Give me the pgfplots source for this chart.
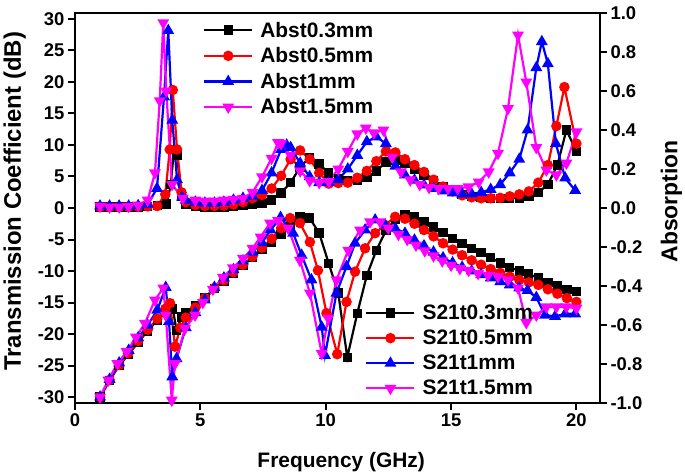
\documentclass[border=0pt]{standalone}
\usepackage{pgfplots}
\pgfplotsset{compat=1.18}
\usepackage{fontspec}
\setmainfont{Liberation Sans}
\definecolor{mag}{rgb}{1,0,1}
\pgfplotsset{
 myaxis/.style={width=525bp, height=390bp, scale only axis, xmin=0, xmax=20.94,
  tick align=outside, major tick length=7bp,
  axis line style={line width=2bp},
  every tick/.style={line width=2bp, black},
  tick label style={font=\fontsize{18.5}{20}\selectfont\bfseries},
  /pgf/number format/assume math mode=true,
  legend cell align=left,
  legend image code/.code={\draw[mark repeat=2,mark phase=2] plot coordinates {(0bp,0bp) (24bp,0bp) (48bp,0bp)};\path (53bp,0bp);},
 },
 sb/.style={line width=2.2bp, black, mark=square*, mark size=3.6bp, mark options={solid}},
 sr/.style={line width=2.2bp, red, mark=*, mark size=4.1bp, mark options={solid}},
 sl/.style={line width=2.2bp, blue, mark=triangle*, mark size=4.7bp, mark options={solid}},
 sm/.style={line width=2.2bp, mag, mark=triangle*, mark size=4.7bp, mark options={solid, rotate=180}},
}
\begin{document}
\begin{tikzpicture}
\path[use as bounding box] (-75bp,-73bp) rectangle (610bp,403bp);
\begin{axis}[myaxis, ymin=-30.95, ymax=30.95, ytick={-30,-25,...,30}, xtick={0,5,10,15,20},
 xtick pos=bottom, ytick pos=left,
 xlabel={Frequency (GHz)}, ylabel={Transmission Coefficient (dB)},
 ylabel style={at={(axis description cs:-0.115,0.517)}, anchor=center, font=\fontsize{24}{26}\selectfont\bfseries},
 xlabel style={at={(axis description cs:0.507,-0.151)}, anchor=center, font=\fontsize{21}{24}\selectfont\bfseries},
 legend style={draw=none, fill=none, at={(axis description cs:0.547,0.262)}, anchor=north west,
  font=\fontsize{21}{23}\selectfont\bfseries, row sep=5bp}]
\addplot[sb] table {
1.00 -30.0
1.38 -27.4
1.76 -25.0
2.14 -23.2
2.52 -21.3
2.90 -19.5
3.28 -17.8
3.66 -16.5
3.90 -16.0
4.05 -19.4
4.25 -17.3
4.42 -16.6
4.80 -15.5
5.18 -14.2
5.56 -12.8
5.94 -11.6
6.32 -10.3
6.70 -9.1
7.08 -7.9
7.46 -6.6
7.84 -5.4
8.22 -4.2
8.60 -2.6
8.98 -1.4
9.36 -1.6
9.74 -4.0
10.12 -8.8
10.50 -13.5
10.86 -23.7
11.26 -16.7
11.64 -10.7
12.02 -6.7
12.40 -3.6
12.78 -1.8
13.16 -1.1
13.54 -1.4
13.92 -2.2
14.30 -3.0
14.68 -3.9
15.06 -4.8
15.44 -5.6
15.82 -6.4
16.20 -7.1
16.58 -7.9
16.96 -8.7
17.34 -9.4
17.72 -10.0
18.10 -10.5
18.48 -11.1
18.86 -11.8
19.24 -12.4
19.62 -12.9
20.00 -13.3
};
\addlegendentry{S21t0.3mm}
\addplot[sr] table {
1.00 -30.0
1.38 -27.3
1.76 -24.9
2.14 -23.0
2.52 -21.1
2.90 -19.3
3.28 -17.6
3.60 -16.0
3.79 -15.1
3.99 -22.0
4.20 -19.0
4.42 -17.4
4.80 -15.8
5.18 -14.3
5.56 -12.7
5.94 -11.5
6.32 -10.2
6.70 -9.0
7.08 -7.7
7.46 -6.3
7.84 -4.9
8.22 -3.2
8.58 -1.6
8.97 -2.4
9.37 -5.4
9.69 -9.9
10.03 -16.7
10.46 -23.2
10.83 -14.9
11.17 -10.1
11.57 -6.4
11.97 -4.0
12.37 -2.7
12.77 -1.4
13.16 -1.7
13.54 -2.5
13.92 -3.5
14.30 -4.5
14.68 -5.6
15.06 -6.6
15.44 -7.5
15.82 -8.3
16.20 -9.0
16.58 -9.7
16.96 -10.3
17.34 -10.9
17.72 -11.4
18.10 -11.8
18.48 -12.2
18.86 -12.9
19.24 -13.6
19.62 -14.3
20.00 -14.9
};
\addlegendentry{S21t0.5mm}
\addplot[sl] table {
1.00 -30.0
1.38 -27.2
1.76 -24.6
2.14 -22.6
2.52 -20.6
2.90 -18.6
3.28 -16.2
3.62 -12.6
3.75 -18.0
3.88 -26.8
4.05 -23.9
4.42 -19.0
4.80 -16.6
5.18 -14.6
5.56 -12.6
5.94 -11.1
6.32 -9.8
6.70 -8.4
7.08 -7.0
7.46 -5.5
7.80 -3.5
8.20 -1.5
8.70 -4.0
9.04 -7.5
9.43 -11.4
9.84 -18.9
9.97 -23.4
10.43 -13.5
10.83 -9.3
11.17 -5.6
11.57 -3.5
11.97 -1.9
12.37 -2.7
12.77 -3.2
13.16 -4.0
13.54 -5.1
13.92 -6.0
14.30 -7.0
14.68 -7.9
15.06 -8.7
15.44 -9.4
15.82 -10.0
16.20 -10.6
16.58 -11.1
16.96 -11.7
17.34 -12.2
17.72 -12.7
18.05 -13.1
18.40 -14.2
18.75 -17.0
19.15 -17.2
19.55 -16.8
19.95 -16.8
};
\addlegendentry{S21t1mm}
\addplot[sm] table {
1.00 -30.0
1.33 -27.3
1.69 -24.7
2.06 -22.8
2.43 -20.5
2.79 -18.3
3.19 -14.6
3.52 -12.7
3.62 -17.0
3.86 -30.5
3.99 -24.7
4.39 -19.1
4.79 -17.0
5.10 -15.0
5.50 -12.9
5.90 -11.0
6.30 -9.5
6.70 -8.0
7.08 -6.4
7.40 -4.6
7.78 -2.4
8.10 -2.0
8.50 -3.2
8.97 -8.3
9.37 -13.5
9.84 -23.1
10.10 -17.5
10.43 -11.4
10.90 -6.7
11.37 -3.5
11.77 -2.2
12.17 -2.2
12.50 -3.2
12.90 -4.2
13.25 -5.0
13.60 -5.9
13.95 -6.8
14.30 -7.6
14.65 -8.4
15.00 -9.1
15.35 -9.6
15.70 -9.9
16.08 -10.4
16.47 -10.7
16.87 -10.9
17.27 -11.4
17.67 -12.7
18.00 -18.2
18.40 -17.0
18.80 -15.7
19.20 -15.7
19.60 -15.7
20.00 -15.9
};
\addlegendentry{S21t1.5mm}
\end{axis}
\begin{axis}[myaxis, ymin=-1, ymax=1, axis x line=none, axis y line*=right,
 ytick={-1,-0.8,-0.6,-0.4,-0.2,0,0.2,0.4,0.6,0.8,1},
 yticklabel style={/pgf/number format/.cd, fixed, fixed zerofill, precision=1},
 ylabel={Absorption},
 ylabel style={at={(axis description cs:1.136,0.517)}, anchor=center, font=\fontsize{23}{26}\selectfont\bfseries},
 legend style={draw=none, fill=none, at={(axis description cs:0.238,0.988)}, anchor=north west,
  font=\fontsize{21}{23}\selectfont\bfseries, row sep=5bp}]
\addplot[sb] table {
1.00 0.005
1.38 0.005
1.76 0.005
2.14 0.005
2.52 0.006
2.90 0.008
3.28 0.012
3.66 0.02
3.82 0.12
3.95 0.30
4.07 0.27
4.25 0.06
4.42 0.02
4.80 0.01
5.18 0.006
5.56 0.005
5.94 0.006
6.32 0.008
6.70 0.012
7.08 0.018
7.46 0.025
7.84 0.04
8.22 0.077
8.60 0.13
8.98 0.21
9.36 0.26
9.74 0.225
10.12 0.18
10.50 0.15
10.88 0.14
11.26 0.14
11.64 0.155
12.02 0.19
12.40 0.235
12.78 0.245
13.16 0.23
13.54 0.20
13.92 0.17
14.30 0.14
14.68 0.11
15.06 0.085
15.44 0.07
15.82 0.06
16.20 0.055
16.58 0.05
16.96 0.05
17.34 0.05
17.72 0.052
18.10 0.06
18.48 0.08
18.86 0.12
19.24 0.22
19.60 0.40
20.00 0.29
};
\addlegendentry{Abst0.3mm}
\addplot[sr] table {
1.00 0.005
1.38 0.005
1.76 0.005
2.14 0.005
2.52 0.006
2.90 0.008
3.28 0.01
3.60 0.07
3.78 0.30
3.90 0.605
4.07 0.30
4.25 0.08
4.42 0.03
4.80 0.015
5.18 0.01
5.56 0.01
5.94 0.012
6.32 0.018
6.70 0.03
7.08 0.05
7.46 0.067
7.84 0.10
8.22 0.165
8.60 0.25
8.98 0.295
9.36 0.25
9.74 0.18
10.12 0.125
10.50 0.128
10.88 0.13
11.26 0.155
11.64 0.19
12.02 0.24
12.40 0.29
12.78 0.285
13.16 0.25
13.54 0.22
13.92 0.185
14.30 0.145
14.68 0.11
15.06 0.085
15.44 0.065
15.82 0.055
16.20 0.05
16.58 0.05
16.96 0.052
17.34 0.06
17.72 0.07
18.10 0.085
18.48 0.13
18.86 0.22
19.20 0.42
19.52 0.62
20.00 0.33
};
\addlegendentry{Abst0.5mm}
\addplot[sl] table {
1.00 0.01
1.38 0.01
1.76 0.01
2.14 0.01
2.52 0.012
2.90 0.02
3.27 0.10
3.55 0.57
3.72 0.91
3.88 0.45
4.07 0.145
4.27 0.055
4.42 0.04
4.80 0.03
5.18 0.025
5.56 0.025
5.94 0.03
6.32 0.04
6.70 0.05
7.08 0.06
7.46 0.09
7.84 0.18
8.22 0.30
8.44 0.323
8.60 0.31
8.98 0.23
9.36 0.16
9.74 0.13
10.12 0.13
10.50 0.145
10.88 0.20
11.26 0.27
11.64 0.34
12.02 0.365
12.40 0.33
12.78 0.215
13.16 0.17
13.54 0.143
13.92 0.118
14.30 0.10
14.68 0.087
15.06 0.077
15.44 0.072
15.82 0.072
16.20 0.08
16.58 0.095
16.96 0.12
17.34 0.18
17.72 0.25
18.05 0.40
18.40 0.72
18.62 0.853
18.86 0.74
19.18 0.33
19.55 0.154
19.95 0.09
};
\addlegendentry{Abst1mm}
\addplot[sm] table {
1.00 0.01
1.38 0.005
1.76 0.005
2.14 0.008
2.52 0.015
2.90 0.04
3.19 0.18
3.38 0.55
3.52 0.95
3.64 0.60
3.87 0.12
4.30 0.05
4.80 0.04
5.18 0.035
5.56 0.035
5.94 0.04
6.32 0.045
6.70 0.05
7.08 0.08
7.46 0.16
7.84 0.255
8.10 0.335
8.22 0.33
8.60 0.27
8.98 0.19
9.36 0.14
9.74 0.13
10.12 0.135
10.50 0.20
10.88 0.29
11.26 0.38
11.60 0.41
11.92 0.385
12.30 0.40
12.65 0.26
13.00 0.185
13.37 0.144
13.75 0.12
14.12 0.105
14.50 0.10
14.88 0.10
15.26 0.10
15.70 0.108
16.10 0.133
16.50 0.185
16.87 0.28
17.27 0.51
17.67 0.887
18.00 0.646
18.40 0.31
18.80 0.195
19.20 0.17
19.60 0.23
20.00 0.39
};
\addlegendentry{Abst1.5mm}
\end{axis}
\end{tikzpicture}
\end{document}
